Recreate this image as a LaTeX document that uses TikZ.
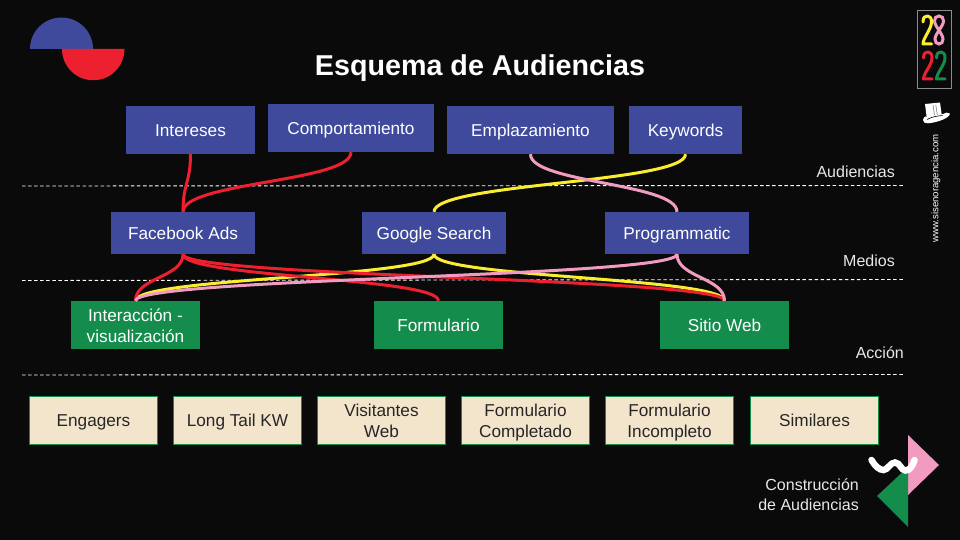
\documentclass[tikz,border=0pt]{standalone}
\usepackage{fontspec}
\setmainfont{Liberation Sans}
\usetikzlibrary{calc}
\definecolor{bgc}{HTML}{0A0A0A}
\definecolor{bluec}{HTML}{3F4A9C}
\definecolor{redc}{HTML}{ED2030}
\definecolor{greenc}{HTML}{148C4B}
\definecolor{creamc}{HTML}{F3E5CC}
\definecolor{pinkc}{HTML}{F29BC0}
\definecolor{yellowc}{HTML}{F9EC31}
\definecolor{lightc}{HTML}{E8E8E8}
\newcommand{\conn}[3]{\draw[#3] let \p1=(#1.south),\p2=(#2.north) in (\p1) .. controls (\x1,{.5*\y1+.5*\y2}) and (\x2,{.5*\y1+.5*\y2}) .. (\p2);}
\newcommand{\twoglyph}[4]{\draw[#1,line width=3pt,line cap=round,line join=round] (#2,#3+6) .. controls (#2,#3+1) and (#2+2,#3) .. (#2+4.5,#3) .. controls (#2+7,#3) and (#2+8.5,#3+2) .. (#2+8.5,#3+6) .. controls (#2+8.5,#3+13) and (#2,#4-6) .. (#2,#4) -- (#2+8.5,#4);}
\newcommand{\twolines}[2]{\raisebox{-0.6pt}[0pt][0pt]{\begin{tabular}{@{}c@{}}#1\\#2\end{tabular}}}
\tikzset{
 x=1pt,y=-1pt,
 base/.style={inner sep=0pt,align=center,font=\fontsize{17.2}{21}\selectfont,execute at begin node={\rule{0pt}{16pt}},execute at end node={\rule[-3.6pt]{0pt}{3.6pt}}},
 bluebox/.style={base,fill=bluec,text=white,minimum height=48pt},
 medbox/.style={base,fill=bluec,text=white,minimum width=144pt,minimum height=42pt},
 greenbox/.style={base,fill=greenc,text=white,minimum width=129pt,minimum height=48pt},
 creambox/.style={base,fill=creamc,draw=greenc,line width=.8pt,text=black!85,minimum width=128pt,minimum height=48pt},
 sectionlabel/.style={inner sep=0pt,anchor=east,text=lightc,font=\fontsize{16}{19}\selectfont},
 divider/.style={white,line width=.9pt,dash pattern=on 3.5pt off 2.55pt},
 redline/.style={redc,line width=3pt},
 yellowline/.style={yellowc,line width=3pt},
 pinkline/.style={pinkc,line width=3pt},
}
\begin{document}
\begin{tikzpicture}
\path[fill=bgc,use as bounding box] (0,0) rectangle (960,540);
% logo
\fill[bluec] (30,49) arc[start angle=180,end angle=360,radius=31.5] -- cycle;
\fill[redc] (62,49) arc[start angle=180,end angle=0,radius=31.25] -- cycle;
\node[inner sep=0pt,anchor=base,text=white,font=\fontsize{28.7}{36}\selectfont\bfseries] (title) at (480,75.5) {Esquema de Audiencias};
% dividers
\coordinate (d1a) at (22,186); \coordinate (d1b) at (904,185.5);
\coordinate (d2a) at (22,280.5); \coordinate (d2b) at (904,279.5);
\coordinate (d3a) at (22,375); \coordinate (d3b) at (904,374.5);
\draw[divider] (d1a)--(d1b); \draw[divider] (d2a)--(d2b); \draw[divider] (d3a)--(d3b);
\node[sectionlabel] (l1) at (895,172) {Audiencias};
\node[sectionlabel] (l2) at (895,261) {Medios};
\node[sectionlabel] (l3) at (904,353) {Acción};
% audiences
\node[bluebox,minimum width=129pt] (int) at (190.5,130) {Intereses};
\node[bluebox,minimum width=166pt] (com) at (351,128) {Comportamiento};
\node[bluebox,minimum width=167pt] (emp) at (530.5,130) {Emplazamiento};
\node[bluebox,minimum width=113pt] (key) at (685.5,130) {Keywords};
% media
\node[medbox] (fb) at (183,233) {Facebook Ads};
\node[medbox] (gs) at (434,233) {Google Search};
\node[medbox] (pr) at (677,233) {Programmatic};
% action
\node[greenbox] (ia) at (135.5,325) {\twolines{Interacción -}{visualización}};
\node[greenbox] (fo) at (438.5,325) {Formulario};
\node[greenbox] (sw) at (724.5,325) {Sitio Web};
% connectors
\conn{key}{gs}{yellowline}
\conn{gs}{ia}{yellowline}
\conn{gs}{sw}{yellowline}
\conn{int}{fb}{redline}
\conn{com}{fb}{redline}
\conn{fb}{ia}{redline}
\conn{fb}{fo}{redline}
\conn{fb}{sw}{redline}
\conn{emp}{pr}{pinkline}
\conn{pr}{ia}{pinkline}
\conn{pr}{sw}{pinkline}
% result boxes
\node[creambox] (r1) at (93.5,420.5) {Engagers};
\node[creambox] (r2) at (237.5,420.5) {Long Tail KW};
\node[creambox] (r3) at (381.5,420.5) {\twolines{Visitantes}{Web}};
\node[creambox] (r4) at (525.5,420.5) {\twolines{Formulario}{Completado}};
\node[creambox] (r5) at (669.5,420.5) {\twolines{Formulario}{Incompleto}};
\node[creambox] (r6) at (814.5,420) {Similares};
% bottom right mark
\fill[pinkc] (908,435) -- (939,465) -- (908,495) -- cycle;
\fill[greenc] (908,467) -- (877,496) -- (908,527) -- cycle;
\draw[white,line width=6.5pt,line cap=round] (871.5,460) .. controls (875,466) and (879,470) .. (883.5,470) .. controls (888,470) and (890,462.5) .. (895,462.5) .. controls (900,462.5) and (901,470.5) .. (905.5,470.5) .. controls (910,470.5) and (913,465) .. (914.5,460);
\node[inner sep=0pt,align=right,anchor=east,text=lightc,font=\fontsize{16}{20}\selectfont] (cons) at (859,494.5) {Construcción\\de Audiencias};
% right strip
\node[inner sep=0pt,rotate=90,text=white,font=\fontsize{9.6}{11}\selectfont] (web) at (936,188.5) {www.sisenoragencia.com};
\draw[black!45,line width=.9pt] (917,10) rectangle (951,88);
\twoglyph{yellowc}{923}{16}{44}
\twoglyph{redc}{923.5}{52}{79}
\twoglyph{greenc}{936.5}{52}{79}
\draw[pinkc,line width=3pt] (939,16) .. controls (942,16) and (943.5,18) .. (943.5,21) .. controls (943.5,26) and (935,34) .. (935,39) .. controls (935,42) and (936.5,44) .. (939,44) .. controls (941.5,44) and (943,42) .. (943,39) .. controls (943,34) and (934.5,26) .. (934.5,21) .. controls (934.5,18) and (936,16) .. (939,16) -- cycle;
% hat
\fill[white] (925,104) -- (940,102.5) -- (942,117) -- (927,120) -- cycle;
\fill[white] (923,120) .. controls (924,116) and (926,115.5) .. (928,117) -- (943,114) .. controls (945,112.5) and (948,112) .. (949.8,113.5) .. controls (950.5,117.5) and (938,122.5) .. (928,123.3) .. controls (925,123.5) and (923,122.5) .. (923,120) -- cycle;
\draw[black,line width=.6pt] (927,119.5) .. controls (932,116.5) and (938,116) .. (942.5,115.5);
\draw[black!45,line width=.7pt] (933,105) -- (934.5,115);
\draw[black!45,line width=.7pt] (935.8,105) -- (937.3,114.8);
\end{tikzpicture}
\end{document}
